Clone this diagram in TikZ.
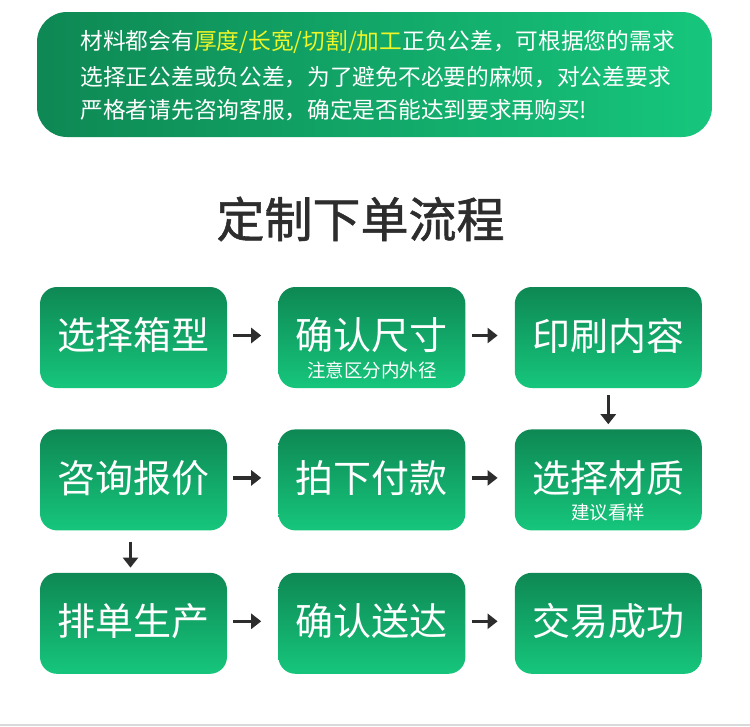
\documentclass[tikz,border=0pt]{standalone}
\usepackage{fontspec}
\setmainfont{Noto Sans CJK SC}
\newfontfamily\headfont{Noto Sans CJK SC}[FakeBold=1.2]
\usetikzlibrary{positioning,arrows.meta}
\definecolor{deepgreen}{RGB}{14,136,84}
\definecolor{freshgreen}{RGB}{22,198,124}
\definecolor{hilite}{RGB}{238,245,40}
\definecolor{inkgray}{RGB}{45,45,45}
\begin{document}
\begin{tikzpicture}[x=1pt,y=-1pt,
  stepbox/.style={rounded corners=17pt,minimum width=187pt,minimum height=101pt,
    top color=deepgreen,bottom color=freshgreen,inner sep=0pt},
  big/.style={text=white,font=\fontsize{38}{38}\selectfont},
  small/.style={text=white,font=\fontsize{18.5}{18.5}\selectfont},
  flow/.style={inkgray,line width=3.5pt,-{Triangle[length=10pt,width=15pt]}},
  node distance=41pt and 51pt]
\useasboundingbox (0,0) rectangle (750,726);
% note on top
\shade[rounded corners=30pt,left color=deepgreen,right color=freshgreen] (37,12) rectangle (712,137);
\node [anchor=west,text=white,font=\fontsize{22.7}{22.7}\selectfont] (l1) at (77,42)
  {材料都会有\textcolor{hilite}{厚度/长宽/切割/加工}正负公差，可根据您的需求};
\node [anchor=west,text=white,font=\fontsize{22.7}{22.7}\selectfont] (l2) at (77,77)
  {选择正公差或负公差，为了避免不必要的麻烦，对公差要求};
\node [anchor=west,text=white,font=\fontsize{22.7}{22.7}\selectfont] (l3) at (77,110)
  {严格者请先咨询客服，确定是否能达到要求再购买!};
\node [text=inkgray,font=\headfont\fontsize{48}{48}\selectfont] (title) at (360.5,219) {定制下单流程};
% boxes
\node [stepbox] (a) at (133.5,337.5) {};
\node [stepbox,right=of a] (b) {};
\node [stepbox,right=49pt of b] (c) {};
\node [stepbox,below=of a] (d) {};
\node [stepbox,right=of d] (e) {};
\node [stepbox,right=49pt of e] (f) {};
\node [stepbox,below=42pt of d] (g) {};
\node [stepbox,right=of g] (h) {};
\node [stepbox,right=49pt of h] (i) {};
\node [big] at ([yshift=2pt]a.center) {选择箱型};
\node [big] at ([yshift=2pt]b.center) {确认尺寸};
\node [small] at ([yshift=-33pt]b.center) {注意区分内外径};
\node [big] at ([yshift=2pt]c.center) {印刷内容};
\node [big] at ([yshift=2pt]d.center) {咨询报价};
\node [big] at ([yshift=2pt]e.center) {拍下付款};
\node [big] at ([yshift=2pt]f.center) {选择材质};
\node [small] at ([yshift=-33pt]f.center) {建议看样};
\node [big] at ([yshift=2pt]g.center) {排单生产};
\node [big] at ([yshift=2pt]h.center) {确认送达};
\node [big] at ([yshift=2pt]i.center) {交易成功};
% arrows
\draw [flow,shorten <=6pt,shorten >=17pt] ([yshift=2pt]a.east) -- ([yshift=2pt]b.west);
\draw [flow,shorten <=6pt,shorten >=17pt] ([yshift=2pt]b.east) -- ([yshift=2pt]c.west);
\draw [flow,shorten <=7pt,shorten >=5pt] (c) -- (f);
\draw [flow,shorten <=6pt,shorten >=17pt] ([yshift=2pt]d.east) -- ([yshift=2pt]e.west);
\draw [flow,shorten <=6pt,shorten >=17pt] ([yshift=2pt]e.east) -- ([yshift=2pt]f.west);
\draw [flow,shorten <=11pt,shorten >=5pt] ([xshift=-3pt]d.south) -- ([xshift=-3pt]g.north);
\draw [flow,shorten <=6pt,shorten >=17pt] ([yshift=2pt]g.east) -- ([yshift=2pt]h.west);
\draw [flow,shorten <=6pt,shorten >=17pt] ([yshift=2pt]h.east) -- ([yshift=2pt]i.west);
\draw [black!15,line width=1.5pt] (0,725) -- (750,725);
\end{tikzpicture}
\end{document}
